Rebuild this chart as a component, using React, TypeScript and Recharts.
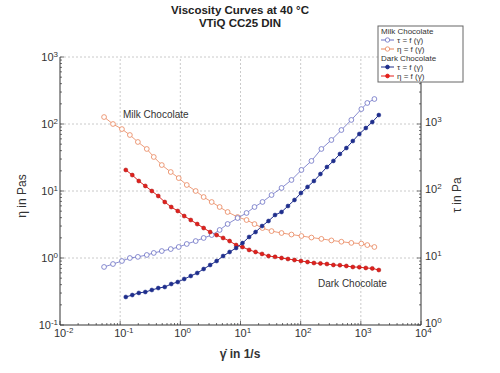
import React from 'react';
import { LineChart, Line, XAxis, YAxis, ReferenceLine } from 'recharts';

// shear rate (1/s), viscosity (Pas), shear stress (Pa)
const milkRate = [0.054, 0.076, 0.107, 0.145, 0.197, 0.277, 0.362, 0.492, 0.693, 0.94, 1.28, 1.8, 2.44, 3.32, 4.5, 6.11, 8.95, 12.6, 17.1, 23.2, 32.8, 48.1, 70.3, 103, 151, 221, 324, 475, 695, 1020, 1280, 1680];
const milkEta = [127, 100, 84, 68.5, 53.9, 42.4, 32.2, 24.4, 19.2, 15.6, 12.3, 10.0, 8.13, 6.85, 5.77, 4.86, 4.09, 3.69, 3.21, 2.8, 2.52, 2.36, 2.24, 2.13, 2.02, 1.93, 1.83, 1.75, 1.68, 1.64, 1.56, 1.46];
const milkTau = [7.35, 8.13, 9.02, 10.0, 10.4, 11.1, 11.9, 12.7, 13.6, 14.6, 16.2, 17.9, 19.9, 22.0, 26.2, 32.2, 39.5, 47.0, 57.7, 68.6, 87.1, 111, 146, 206, 281, 424, 577, 813, 1150, 1670, 2060, 2360];

const darkRate = [0.124, 0.159, 0.204, 0.262, 0.336, 0.43, 0.551, 0.706, 0.906, 1.16, 1.49, 1.91, 2.44, 3.13, 4.01, 5.14, 6.59, 8.45, 10.8, 13.9, 17.8, 22.8, 29.2, 37.5, 48.1, 61.5, 78.9, 101, 130, 166, 213, 273, 350, 449, 575, 736, 944, 1210, 1550, 1990];
const darkEta = [20.6, 17.3, 14.1, 11.9, 10.0, 8.42, 6.85, 5.77, 5.03, 4.23, 3.69, 3.21, 2.8, 2.44, 2.2, 1.99, 1.79, 1.56, 1.46, 1.32, 1.23, 1.15, 1.07, 1.04, 1.0, 0.966, 0.933, 0.902, 0.871, 0.842, 0.83, 0.813, 0.787, 0.78, 0.76, 0.734, 0.73, 0.71, 0.7, 0.662];
const darkTau = [2.62, 2.8, 3.01, 3.11, 3.33, 3.56, 3.69, 4.09, 4.38, 4.86, 5.39, 5.97, 6.85, 7.86, 9.02, 10.7, 12.3, 14.1, 16.7, 20.6, 24.4, 30.0, 35.7, 43.8, 48.6, 59.7, 73.5, 93.3, 115, 141, 179, 228, 281, 357, 438, 557, 710, 871, 1070, 1360];

const xDecades = [-2, -1, 0, 1, 2, 3, 4];
const etaDecades = [-1, 0, 1, 2, 3];
const tauDecades = [0, 1, 2, 3, 4];

const FONT = '"Liberation Sans", Arial, sans-serif';
const C = {
  milkTau: '#6b70c4',
  milkEta: '#e8845a',
  darkTau: '#1f2e8c',
  darkEta: '#e3201c',
  axis: '#333',
  grid: '#bdbdbd',
};

const withMinors = (decades: number[]) => {
  const out: number[] = [];
  decades.forEach((d, i) => {
    out.push(Math.pow(10, d));
    if (i < decades.length - 1) for (let m = 2; m <= 9; m++) out.push(m * Math.pow(10, d));
  });
  return out;
};

const toRows = (xs: number[], ys: number[]) => xs.map((x, i) => ({ x, y: ys[i] }));

const LogTick = (props: any) => {
  const { x, y, payload, side, hideAbove } = props;
  const v = payload.value;
  const e = Math.round(Math.log10(v));
  const major = Math.abs(v - Math.pow(10, e)) < 1e-6 * v;
  const showLabel = major && !(hideAbove && v > hideAbove);
  const len = major ? 4 : 2;
  const lbl = (
    <>
      10<tspan dy={-4} fontSize={8}>{e}</tspan>
    </>
  );
  if (side === 'bottom') {
    return (
      <g>
        <line x1={x} x2={x} y1={y} y2={y - len} stroke={C.axis} strokeWidth={0.7} />
        {showLabel && (
          <text x={x - 6} y={y + 12} fontSize={11} fill="#333" fontFamily={FONT}>{lbl}</text>
        )}
      </g>
    );
  }
  if (side === 'left') {
    return (
      <g>
        <line x1={x} x2={x + len} y1={y} y2={y} stroke={C.axis} strokeWidth={0.7} />
        {showLabel && (
          <text x={x - 2} y={y + 4} textAnchor="end" fontSize={11} fill="#333" fontFamily={FONT}>{lbl}</text>
        )}
      </g>
    );
  }
  return (
    <g>
      <line x1={x} x2={x - len} y1={y} y2={y} stroke={C.axis} strokeWidth={0.7} />
      {showLabel && (
        <text x={x + 4} y={y + 2} fontSize={11} fill="#333" fontFamily={FONT}>{lbl}</text>
      )}
    </g>
  );
};

const LegendRow = ({ y, color, open, text }: { y: number; color: string; open: boolean; text: string }) => (
  <g>
    <line x1={381} x2={394} y1={y} y2={y} stroke={color} strokeWidth={1} />
    <circle cx={387.5} cy={y} r={open ? 2.2 : 1.9} fill={open ? '#fff' : color} stroke={color} strokeWidth={0.8} />
    <text x={397} y={y + 3} fontSize={8} fill="#333" fontFamily={FONT}>{text}</text>
  </g>
);

export default function App() {
  const milkEtaRows = toRows(milkRate, milkEta);
  const milkTauRows = toRows(milkRate, milkTau);
  const darkEtaRows = toRows(darkRate, darkEta);
  const darkTauRows = toRows(darkRate, darkTau);
  const gridDash = '2 2';

  return (
    <div style={{ position: 'absolute', left: 0, top: 0, width: 500, height: 373, background: '#fff' }}>
      <LineChart width={500} height={373} margin={{ top: 57, right: 29, bottom: 18, left: 0 }}>
        <XAxis
          xAxisId="x" dataKey="x" type="number" scale="log" domain={[0.01, 10000]} allowDataOverflow
          ticks={withMinors(xDecades)} interval={0} height={30} tickSize={0} tickMargin={0}
          tickLine={false} axisLine={{ stroke: C.axis }} tick={<LogTick side="bottom" />}
        />
        <YAxis
          yAxisId="eta" type="number" scale="log" domain={[0.1, 1000]} allowDataOverflow
          ticks={withMinors(etaDecades)} interval={0} width={60} tickSize={0} tickMargin={0}
          tickLine={false} axisLine={{ stroke: C.axis }} tick={<LogTick side="left" />}
        />
        <YAxis
          yAxisId="tau" orientation="right" type="number" scale="log" domain={[1, 10000]} allowDataOverflow
          ticks={withMinors(tauDecades)} interval={0} width={50} tickSize={0} tickMargin={0}
          tickLine={false} axisLine={{ stroke: C.axis }} tick={<LogTick side="right" hideAbove={1000} />}
        />
        {xDecades.slice(1, -1).map((d) => (
          <ReferenceLine key={'vx' + d} xAxisId="x" yAxisId="eta" x={Math.pow(10, d)} stroke={C.grid} strokeWidth={0.8} strokeDasharray={gridDash} />
        ))}
        {etaDecades.slice(1).map((d) => (
          <ReferenceLine key={'hy' + d} xAxisId="x" yAxisId="eta" y={Math.pow(10, d)} stroke={C.grid} strokeWidth={0.8} strokeDasharray={gridDash} />
        ))}
        <Line
          xAxisId="x" yAxisId="eta" data={milkEtaRows} dataKey="y" type="linear" stroke={C.milkEta} strokeWidth={0.8}
          dot={{ r: 2.4, fill: '#fff', stroke: C.milkEta, strokeWidth: 0.8 }} isAnimationActive={false}
        />
        <Line
          xAxisId="x" yAxisId="tau" data={milkTauRows} dataKey="y" type="linear" stroke={C.milkTau} strokeWidth={0.8}
          dot={{ r: 2.4, fill: '#fff', stroke: C.milkTau, strokeWidth: 0.8 }} isAnimationActive={false}
        />
        <Line
          xAxisId="x" yAxisId="eta" data={darkEtaRows} dataKey="y" type="linear" stroke={C.darkEta} strokeWidth={1}
          dot={{ r: 2, fill: C.darkEta, stroke: '#a01010', strokeWidth: 0.5 }} isAnimationActive={false}
        />
        <Line
          xAxisId="x" yAxisId="tau" data={darkTauRows} dataKey="y" type="linear" stroke={C.darkTau} strokeWidth={1}
          dot={{ r: 2, fill: C.darkTau, stroke: C.darkTau, strokeWidth: 0.5 }} isAnimationActive={false}
        />
      </LineChart>
      <svg width={500} height={373} style={{ position: 'absolute', left: 0, top: 0, pointerEvents: 'none' }} fontFamily={FONT}>
        <text x={240} y={14} textAnchor="middle" fontSize={11.5} fontWeight="bold" fill="#222">Viscosity Curves at 40 °C</text>
        <text x={240} y={27} textAnchor="middle" fontSize={11.5} fontWeight="bold" fill="#222">VTiQ CC25 DIN</text>
        <text transform="translate(26,196) rotate(-90)" textAnchor="middle" fontSize={12} fill="#333">η in Pas</text>
        <text transform="translate(461,195) rotate(-90)" textAnchor="middle" fontSize={12} fill="#333">τ in Pa</text>
        <text x={240} y={358} textAnchor="middle" fontSize={12} fontWeight="bold" fill="#333">γ̇ in 1/s</text>
        <text x={123} y={118} fontSize={10} fill="#333">Milk Chocolate</text>
        <text x={318} y={287} fontSize={10} fill="#333">Dark Chocolate</text>
        <rect x={378} y={26} width={85} height={56} fill="#fff" stroke="#666" strokeWidth={1} />
        <text x={381} y={34} fontSize={8} fill="#333">Milk Chocolate</text>
        <LegendRow y={40} color={C.milkTau} open text="τ = f (γ̇)" />
        <LegendRow y={49} color={C.milkEta} open text="η = f (γ̇)" />
        <text x={381} y={61} fontSize={8} fill="#333">Dark Chocolate</text>
        <LegendRow y={67} color={C.darkTau} open={false} text="τ = f (γ̇)" />
        <LegendRow y={76} color={C.darkEta} open={false} text="η = f (γ̇)" />
      </svg>
    </div>
  );
}
